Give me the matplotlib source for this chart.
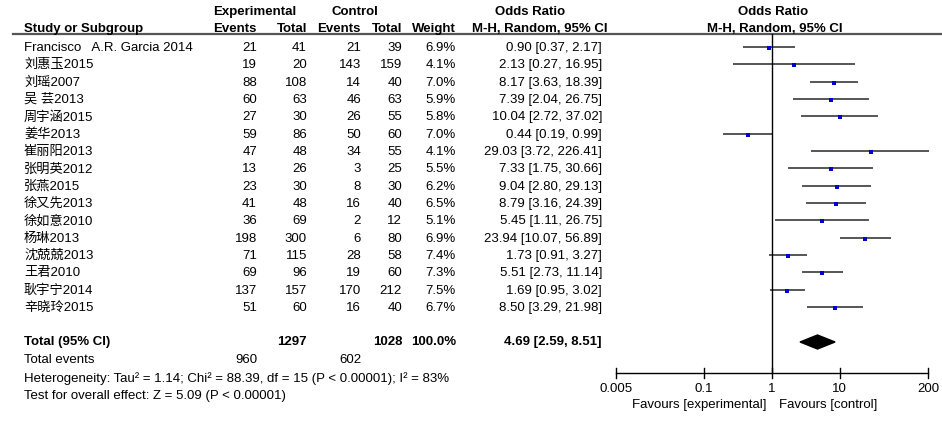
import matplotlib.pyplot as plt
import numpy as np
from matplotlib.patches import Polygon

plt.rcParams['font.family'] = ['Liberation Sans', 'Noto Sans CJK SC', 'DejaVu Sans']

studies = ['Francisco   A.R. Garcia 2014', '刘惠玉2015', '刘瑶2007', '吴 芸2013', '周宇涵2015',
           '姜华2013', '崔丽阳2013', '张明英2012', '张燕2015', '徐又先2013', '徐如意2010',
           '杨琳2013', '沈兢兢2013', '王君2010', '耿宇宁2014', '辛晓玲2015']
exp_events = [21, 19, 88, 60, 27, 59, 47, 13, 23, 41, 36, 198, 71, 69, 137, 51]
exp_total = [41, 20, 108, 63, 30, 86, 48, 26, 30, 48, 69, 300, 115, 96, 157, 60]
ctl_events = [21, 143, 14, 46, 26, 50, 34, 3, 8, 16, 2, 6, 28, 19, 170, 16]
ctl_total = [39, 159, 40, 63, 55, 60, 55, 25, 30, 40, 12, 80, 58, 60, 212, 40]
weights = [6.9, 4.1, 7.0, 5.9, 5.8, 7.0, 4.1, 5.5, 6.2, 6.5, 5.1, 6.9, 7.4, 7.3, 7.5, 6.7]
odds = [0.90, 2.13, 8.17, 7.39, 10.04, 0.44, 29.03, 7.33, 9.04, 8.79, 5.45, 23.94, 1.73, 5.51, 1.69, 8.50]
ci_low = [0.37, 0.27, 3.63, 2.04, 2.72, 0.19, 3.72, 1.75, 2.80, 3.16, 1.11, 10.07, 0.91, 2.73, 0.95, 3.29]
ci_high = [2.17, 16.95, 18.39, 26.75, 37.02, 0.99, 226.41, 30.66, 29.13, 24.39, 26.75, 56.89, 3.27, 11.14, 3.02, 21.98]

total_or, total_low, total_high = 4.69, 2.59, 8.51
ticks = [0.005, 0.1, 1, 10, 200]
tick_labels = ['0.005', '0.1', '1', '10', '200']

fs = 9.5
fig = plt.figure(figsize=(9.42, 4.30), dpi=100)

# text layer in pixel coordinates
ax = fig.add_axes([0, 0, 1, 1])
ax.set_xlim(0, 942)
ax.set_ylim(430, 0)
ax.axis('off')

# forest layer: log x, pixel y
fx = fig.add_axes([616 / 942, 0, (928 - 616) / 942, 1])
fx.set_xscale('log')
fx.set_xlim(0.005, 200)
fx.set_ylim(430, 0)
fx.axis('off')

# headers
ax.text(255, 12, 'Experimental', ha='center', va='center', fontsize=fs, fontweight='bold')
ax.text(355, 12, 'Control', ha='center', va='center', fontsize=fs, fontweight='bold')
ax.text(530, 12, 'Odds Ratio', ha='center', va='center', fontsize=fs, fontweight='bold')
ax.text(773, 12, 'Odds Ratio', ha='center', va='center', fontsize=fs, fontweight='bold')
ax.text(24, 29, 'Study or Subgroup', ha='left', va='center', fontsize=fs, fontweight='bold')
for x, s in [(257, 'Events'), (307, 'Total'), (361, 'Events'), (402, 'Total'), (456, 'Weight')]:
    ax.text(x, 29, s, ha='right', va='center', fontsize=fs, fontweight='bold')
ax.text(540, 29, 'M-H, Random, 95% CI', ha='center', va='center', fontsize=fs, fontweight='bold')
ax.text(775, 29, 'M-H, Random, 95% CI', ha='center', va='center', fontsize=fs, fontweight='bold')
ax.plot([13, 942], [34, 34], color='#555555', lw=1.6)

# study rows
ys = 48 + 17.33 * np.arange(len(studies))
for i, y in enumerate(ys):
    ax.text(24, y, studies[i], ha='left', va='center', fontsize=fs)
    ax.text(257, y, str(exp_events[i]), ha='right', va='center', fontsize=fs)
    ax.text(307, y, str(exp_total[i]), ha='right', va='center', fontsize=fs)
    ax.text(361, y, str(ctl_events[i]), ha='right', va='center', fontsize=fs)
    ax.text(402, y, str(ctl_total[i]), ha='right', va='center', fontsize=fs)
    ax.text(456, y, '%.1f%%' % weights[i], ha='right', va='center', fontsize=fs)
    ax.text(602, y, '%.2f [%.2f, %.2f]' % (odds[i], ci_low[i], ci_high[i]),
            ha='right', va='center', fontsize=fs)
    fx.plot([ci_low[i], min(ci_high[i], 210)], [y - 1, y - 1], color='#3a3a3a', lw=1.2,
            solid_capstyle='butt', clip_on=False)
    fx.plot(odds[i], y, 's', color='#0000cc', ms=np.sqrt(weights[i]) * 1.25, mew=0)

# total row
yt = 342
ax.text(24, yt, 'Total (95% CI)', ha='left', va='center', fontsize=fs, fontweight='bold')
ax.text(307, yt, str(sum(exp_total)), ha='right', va='center', fontsize=fs, fontweight='bold')
ax.text(402, yt, str(sum(ctl_total)), ha='right', va='center', fontsize=fs, fontweight='bold')
ax.text(456, yt, '100.0%', ha='right', va='center', fontsize=fs, fontweight='bold')
ax.text(602, yt, '%.2f [%.2f, %.2f]' % (total_or, total_low, total_high),
        ha='right', va='center', fontsize=fs, fontweight='bold')
fx.add_patch(Polygon([(total_low, yt), (total_or, yt - 7), (total_high, yt), (total_or, yt + 7)],
                     closed=True, color='black'))

ax.text(24, 360, 'Total events', ha='left', va='center', fontsize=fs)
ax.text(257, 360, str(sum(exp_events)), ha='right', va='center', fontsize=fs)
ax.text(361, 360, str(sum(ctl_events)), ha='right', va='center', fontsize=fs)
ax.text(24, 379, 'Heterogeneity: Tau² = 1.14; Chi² = 88.39, df = 15 (P < 0.00001); I² = 83%',
        ha='left', va='center', fontsize=fs)
ax.text(24, 396, 'Test for overall effect: Z = 5.09 (P < 0.00001)', ha='left', va='center', fontsize=fs)

# null line and axis
fx.plot([1, 1], [34, 373], color='black', lw=1.0)
fx.plot([0.005, 200], [373, 373], color='black', lw=1.0, clip_on=False)
for t, lab in zip(ticks, tick_labels):
    fx.plot([t, t], [368, 378], color='black', lw=1.0, clip_on=False)
    fx.text(t, 389, lab, ha='center', va='center', fontsize=fs, clip_on=False)
ax.text(766, 405, 'Favours [experimental]', ha='right', va='center', fontsize=fs)
ax.text(779, 405, 'Favours [control]', ha='left', va='center', fontsize=fs)

plt.savefig('out.png', dpi=100)
